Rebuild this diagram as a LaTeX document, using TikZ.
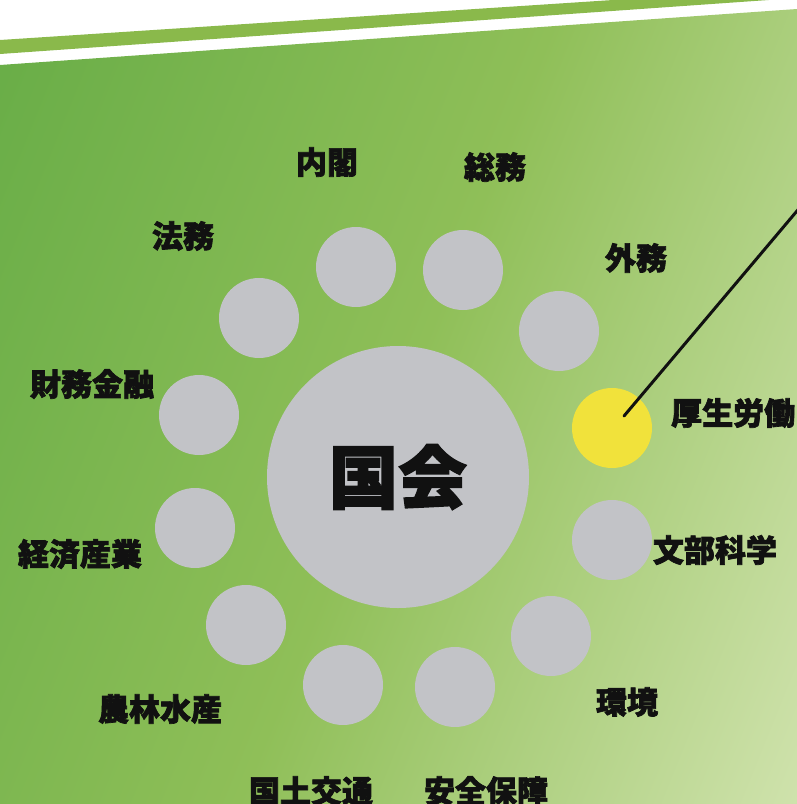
\documentclass[tikz,border=0pt]{standalone}
\usepackage{fontspec}
\newfontfamily\cjk{Noto Sans CJK JP}[BoldFeatures={FakeBold=2.2}]
\definecolor{bgA}{HTML}{68AD47}
\definecolor{bgM}{HTML}{8FBF58}
\definecolor{bgB}{HTML}{CFE2AC}
\definecolor{stripe}{HTML}{8AB94B}
\definecolor{disc}{HTML}{C2C3C7}
\definecolor{hilite}{HTML}{F1E23B}
\definecolor{ink}{HTML}{111111}
\pgfdeclarehorizontalshading{bgshade}{100bp}{color(0bp)=(bgA); color(17.5bp)=(bgA); color(50bp)=(bgM); color(82.5bp)=(bgB); color(100bp)=(bgB)}
\tikzset{
  small/.style={circle, fill=disc, minimum size=80pt, inner sep=0pt},
  hot/.style={circle, fill=hilite, minimum size=80pt, inner sep=0pt},
  lab/.style={font=\cjk\bfseries\fontsize{31}{31}\selectfont, text=ink, inner sep=0pt},
}
\begin{document}
\begin{tikzpicture}[x=1pt, y=-1pt]
\useasboundingbox (0,0) rectangle (797,804);
\fill[white] (0,0) rectangle (797,804);
% top stripe
\fill[stripe] (0,40) -- (797,-12) -- (797,-2) -- (0,54) -- cycle;
% gradient field
\shade[shading=bgshade, shading angle=-22] (0,65) -- (797,9) -- (797,804) -- (0,804) -- cycle;
% centre
\node[circle, fill=disc, minimum size=262pt, inner sep=0pt,
      font=\cjk\bfseries\fontsize{69}{69}\selectfont, text=ink] (kokkai) at (398,477) {国会};
% ring of committees
\node[small] (naikaku) at (356,267) {};
\node[small] (somu) at (463,270) {};
\node[small] (gaimu) at (559,331) {};
\node[hot] (kosei) at (612,428) {};
\node[small] (monbu) at (612,540) {};
\node[small] (kankyo) at (551,636) {};
\node[small] (anzen) at (455,687) {};
\node[small] (kokudo) at (343,685) {};
\node[small] (norin) at (246,625) {};
\node[small] (keizai) at (195,528) {};
\node[small] (zaimu) at (199,415) {};
\node[small] (homu) at (259,318) {};
% labels
\node[lab] (lnaikaku) at (327,162) {内閣};
\node[lab] (lsomu) at (495,167) {総務};
\node[lab] (lgaimu) at (636,258) {外務};
\node[lab, anchor=west] (lkosei) at (671,413) {厚生労働};
\node[lab] (lmonbu) at (715,550) {文部科学};
\node[lab] (lkankyo) at (627,702) {環境};
\node[lab] (lanzen) at (486,791) {安全保障};
\node[lab] (lkokudo) at (311,791) {国土交通};
\node[lab] (lnorin) at (160,709) {農林水産};
\node[lab] (lkeizai) at (80,554) {経済産業};
\node[lab] (lzaimu) at (92,384) {財務金融};
\node[lab] (lhomu) at (183,236) {法務};
% pointer line
\coordinate (pin) at (624,416);
\coordinate (lineend) at (802,205);
\draw[ink, line width=3pt, line cap=round] (pin) -- (lineend);
\end{tikzpicture}
\end{document}
